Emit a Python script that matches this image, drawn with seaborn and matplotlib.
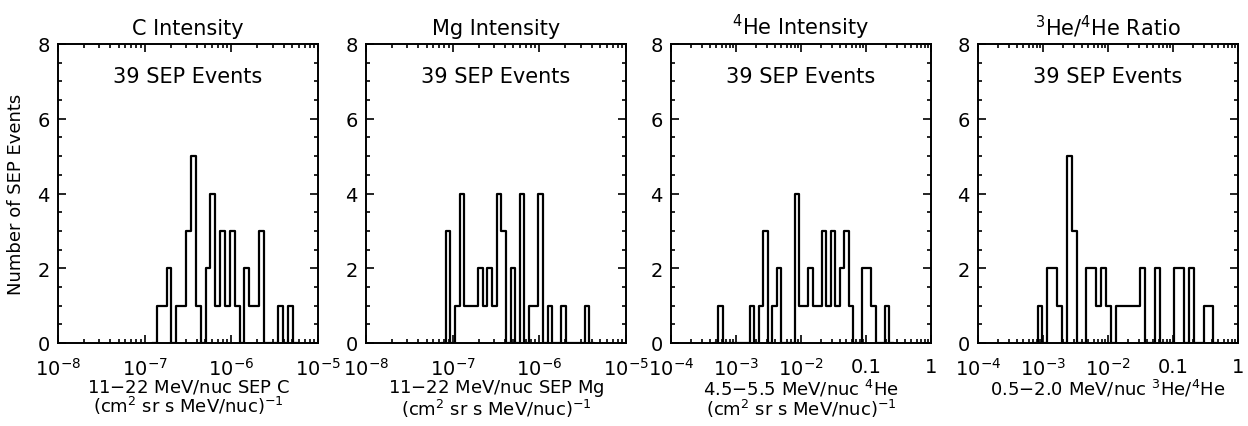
import numpy as np
import pandas as pd
import seaborn as sns
import matplotlib.pyplot as plt
from matplotlib.ticker import LogLocator, MultipleLocator, NullFormatter

# histogram bins: log10 of first edge, bin width (decades), counts per bin
c_start, c_width = -6.859, 0.0561
c_counts = [1, 1, 2, 0, 1, 1, 3, 5, 1, 0, 2, 4, 1, 3, 1, 3, 1, 0, 2, 1,
            1, 3, 0, 0, 0, 1, 0, 1]

mg_start, mg_width = -7.080, 0.0534
mg_counts = [3, 0, 1, 4, 1, 1, 1, 2, 1, 2, 1, 4, 3, 0, 2, 0, 4, 0, 1, 1,
             4, 0, 1, 0, 0, 1, 0, 0, 0, 0, 1]

he4_start, he4_width = -3.272, 0.0692
he4_counts = [1, 0, 0, 0, 0, 0, 0, 1, 0, 1, 3, 0, 1, 2, 0, 0, 0, 4, 1, 1,
              2, 1, 1, 3, 1, 3, 1, 2, 3, 1, 0, 0, 2, 2, 1, 0, 0, 1]

ratio_start, ratio_width = -3.084, 0.0751
ratio_counts = [1, 0, 2, 2, 1, 0, 5, 3, 0, 0, 2, 2, 1, 2, 1, 0, 1, 1, 1, 1,
                1, 2, 0, 0, 2, 0, 0, 0, 2, 2, 0, 2, 0, 0, 1, 1]

titles = ["C Intensity", "Mg Intensity", "$^4$He Intensity", "$^3$He/$^4$He Ratio"]
xlabels = [
    "11$-$22 MeV/nuc SEP C\n(cm$^2$ sr s MeV/nuc)$^{-1}$",
    "11$-$22 MeV/nuc SEP Mg\n(cm$^2$ sr s MeV/nuc)$^{-1}$",
    "4.5$-$5.5 MeV/nuc $^4$He\n(cm$^2$ sr s MeV/nuc)$^{-1}$",
    "0.5$-$2.0 MeV/nuc $^3$He/$^4$He",
]
xranges = [(-8, -5), (-8, -5), (-4, 0), (-4, 0)]
xticklabels = [
    ["10$^{-8}$", "10$^{-7}$", "10$^{-6}$", "10$^{-5}$"],
    ["10$^{-8}$", "10$^{-7}$", "10$^{-6}$", "10$^{-5}$"],
    ["10$^{-4}$", "10$^{-3}$", "10$^{-2}$", "0.1", "1"],
    ["10$^{-4}$", "10$^{-3}$", "10$^{-2}$", "0.1", "1"],
]
n_events = 39

sns.set_style("ticks")
plt.rcParams['font.family'] = ['DejaVu Sans']
plt.rcParams['mathtext.default'] = 'regular'
plt.rcParams['axes.linewidth'] = 1.4
plt.rcParams['text.color'] = 'black'
plt.rcParams['axes.labelcolor'] = 'black'
plt.rcParams['xtick.color'] = 'black'
plt.rcParams['ytick.color'] = 'black'

fig = plt.figure(figsize=(12.48, 4.27), dpi=100)
lefts = [58, 366, 671, 978]
panels = [(c_start, c_width, c_counts), (mg_start, mg_width, mg_counts),
          (he4_start, he4_width, he4_counts), (ratio_start, ratio_width, ratio_counts)]

for i, (start, width, counts) in enumerate(panels):
    ax = fig.add_axes([lefts[i] / 1248, 83 / 427, 260 / 1248, 299 / 427])
    n = len(counts)
    # pad one empty bin on each side so the outline starts and ends on the baseline
    edges = (start + width * np.arange(-1, n + 2)).tolist()
    centers = start + width * (np.arange(n) + 0.5)
    df = pd.DataFrame({"value": 10.0 ** centers, "count": counts})
    sns.histplot(data=df, x="value", weights="count", bins=edges, log_scale=True,
                 element="step", fill=False, color="black", linewidth=1.6, ax=ax)

    lo, hi = xranges[i]
    ax.set_xlim(10.0 ** lo, 10.0 ** hi)
    ax.set_ylim(0, 8)
    ax.set_xticks(10.0 ** np.arange(lo, hi + 1))
    ax.set_xticklabels(xticklabels[i])
    ax.xaxis.set_minor_locator(LogLocator(base=10, subs=np.arange(2, 10), numticks=100))
    ax.xaxis.set_minor_formatter(NullFormatter())
    ax.set_yticks([0, 2, 4, 6, 8])
    ax.yaxis.set_minor_locator(MultipleLocator(0.5))
    ax.tick_params(which="both", direction="in", top=True, right=True, width=1.2,
                   colors="black", labelcolor="black")
    ax.tick_params(which="major", length=6)
    ax.tick_params(which="minor", length=3)
    ax.tick_params(axis="x", which="major", labelsize=14, pad=10)
    ax.tick_params(axis="y", which="major", labelsize=14, pad=6)
    for s in ax.spines.values():
        s.set_color("black")

    ax.set_title(titles[i], fontsize=15, pad=7, color="black")
    ax.set_xlabel(xlabels[i], fontsize=13, labelpad=-1, linespacing=0.9)
    ax.set_ylabel("Number of SEP Events" if i == 0 else "", fontsize=13, labelpad=9)
    ax.text(0.5, 0.893, f"{n_events} SEP Events", transform=ax.transAxes,
            ha="center", va="center", fontsize=15)

fig.savefig("out.png", dpi=100)
